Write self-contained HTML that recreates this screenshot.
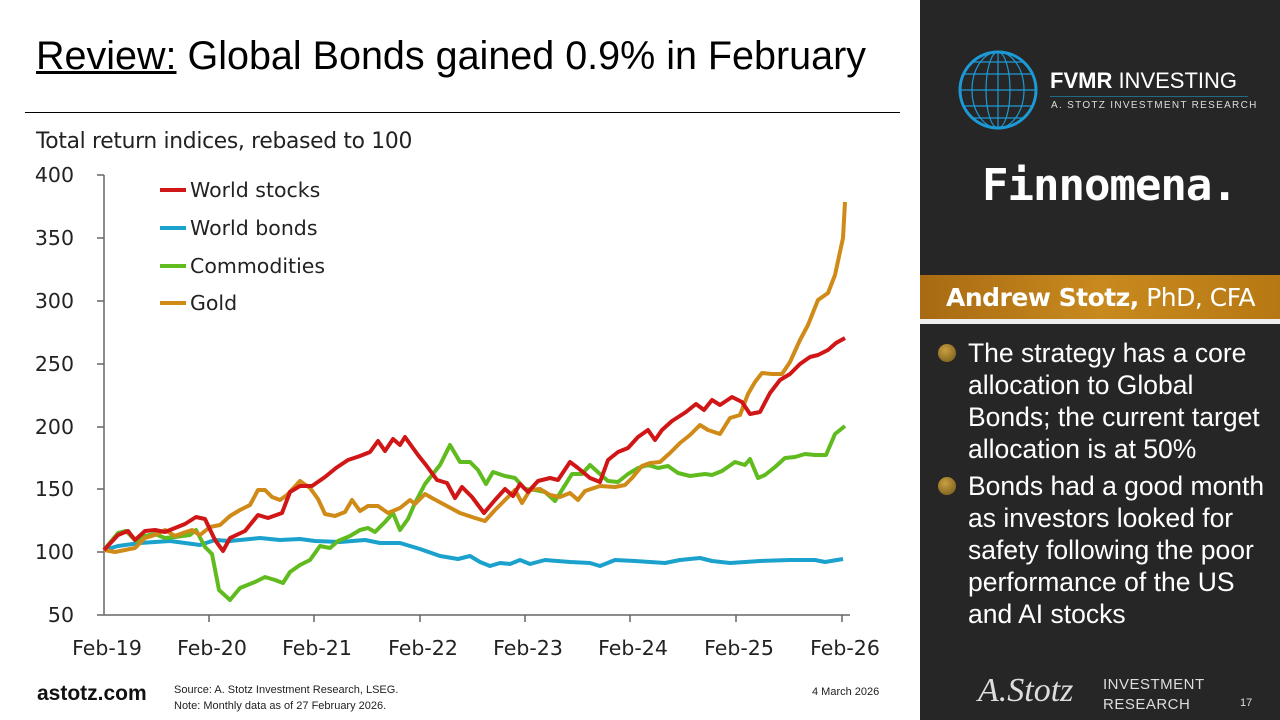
<!DOCTYPE html>
<html><head><meta charset="utf-8"><style>
body{margin:0;width:1280px;height:720px;overflow:hidden;background:#fff;font-family:"Liberation Sans",sans-serif;position:relative}
.abs{position:absolute}
#right{left:920px;top:0;width:360px;height:720px;background:#262626}
.bul{position:absolute;left:48px;font-size:26.5px;line-height:32px;color:#fff;width:306px}
.dot{position:absolute;left:-30px;top:7px;width:18px;height:18px;border-radius:50%;background:radial-gradient(circle at 40% 35%,#c9a040,#6e5418)}
</style></head><body>
<div class="abs" style="left:36px;top:34px;font-size:39.5px;color:#000"><span style="text-decoration:underline">Review:</span> Global Bonds gained 0.9% in February</div>
<div class="abs" style="left:25px;top:112px;width:875px;height:1px;background:#000"></div>
<div class="abs" style="left:36px;top:129px;font-size:21.8px;color:#222;font-family:'DejaVu Sans',sans-serif;letter-spacing:-0.3px">Total return indices, rebased to 100</div>
<svg class="abs" style="left:0;top:0" width="920" height="720" font-family="DejaVu Sans, sans-serif" font-size="20.5" fill="#222">
<g stroke="#666" stroke-width="1.5">
<line x1="104" y1="175" x2="104" y2="615"/><line x1="104" y1="615" x2="850" y2="615"/>
<line x1="97" y1="175" x2="104" y2="175"/><line x1="97" y1="238" x2="104" y2="238"/><line x1="97" y1="301" x2="104" y2="301"/><line x1="97" y1="364" x2="104" y2="364"/><line x1="97" y1="427" x2="104" y2="427"/><line x1="97" y1="489" x2="104" y2="489"/><line x1="97" y1="552" x2="104" y2="552"/><line x1="97" y1="615" x2="104" y2="615"/>
<line x1="209" y1="615" x2="209" y2="622"/><line x1="314" y1="615" x2="314" y2="622"/><line x1="420" y1="615" x2="420" y2="622"/><line x1="525" y1="615" x2="525" y2="622"/><line x1="630" y1="615" x2="630" y2="622"/><line x1="736" y1="615" x2="736" y2="622"/><line x1="842" y1="615" x2="842" y2="622"/>
</g>
<g text-anchor="end"><text x="74" y="182">400</text><text x="74" y="245">350</text><text x="74" y="308">300</text><text x="74" y="371">250</text><text x="74" y="434">200</text><text x="74" y="496">150</text><text x="74" y="559">100</text><text x="74" y="622">50</text></g>
<g text-anchor="middle"><text x="107" y="655">Feb-19</text><text x="212" y="655">Feb-20</text><text x="317" y="655">Feb-21</text><text x="423" y="655">Feb-22</text><text x="528" y="655">Feb-23</text><text x="633" y="655">Feb-24</text><text x="739" y="655">Feb-25</text><text x="845" y="655">Feb-26</text></g>
<g stroke-width="4" fill="none" stroke-linejoin="round">
<polyline stroke="#1aa1cc" points="104,550 118,546 140,543 170,541 200,545 215,540 230,541 260,538 280,540 300,539 315,541 340,542 365,540 380,543 400,543 420,549 440,556 458,559 470,556 480,562 490,566 500,563 510,564 520,560 530,564 545,560 570,562 590,563 600,566 615,560 635,561 650,562 665,563 680,560 700,558 712,561 730,563 760,561 790,560 815,560 825,562 843,559"/>
<polyline stroke="#60bb1e" points="104,550 118,533 126,531 136,541 145,536 155,534 165,538 175,537 190,535 196,530 205,547 212,554 219,590 230,600 240,588 255,582 265,577 275,580 283,583 290,572 300,565 310,560 320,546 330,548 338,541 350,536 360,530 368,528 375,532 385,522 393,513 400,530 408,519 415,503 425,484 440,465 450,445 460,462 470,462 478,470 486,484 493,472 505,476 515,478 525,489 535,490 545,492 555,501 562,490 572,474 582,474 590,465 600,474 608,481 618,482 628,474 638,468 648,465 658,468 668,466 678,473 690,476 705,474 712,475 722,471 735,462 745,465 750,459 758,478 765,475 775,467 785,458 795,457 805,454 815,455 826,455 835,434 845,426"/>
<polyline stroke="#d08a17" points="104,550 115,552 125,550 135,548 145,538 155,535 165,530 175,536 183,533 192,530 200,535 210,527 220,525 230,516 240,510 250,505 258,490 265,490 272,497 280,500 287,495 300,481 310,488 318,499 325,514 335,516 345,512 352,500 360,511 368,506 378,506 388,513 400,508 410,500 415,504 425,494 432,498 445,505 460,513 475,518 485,521 495,510 505,500 515,490 522,503 530,490 540,489 550,495 560,497 570,493 578,500 585,491 600,486 615,487 625,485 632,478 642,466 650,463 660,462 670,453 680,443 690,435 700,425 708,430 720,434 730,418 740,415 748,394 755,382 762,373 772,374 782,374 790,362 800,340 808,325 818,300 828,293 835,275 843,238 845,202"/>
<polyline stroke="#d01616" points="104,550 118,535 128,531 135,540 145,531 155,530 165,532 175,528 185,524 196,517 205,519 215,540 223,551 230,538 245,531 258,515 268,518 282,513 290,492 300,486 312,486 325,477 336,468 348,460 360,456 370,452 378,441 385,451 393,439 400,445 405,437 418,455 426,465 437,480 447,483 455,498 462,487 472,497 484,513 495,500 505,489 513,496 520,484 528,492 538,481 550,478 558,480 570,462 578,468 590,478 600,482 608,460 618,452 628,448 638,437 648,430 655,440 662,430 672,421 686,412 696,404 704,410 712,400 720,405 732,397 742,402 750,414 760,412 770,393 780,380 790,374 800,364 810,357 818,355 828,350 836,343 845,338"/>
<line x1="160" y1="190" x2="186" y2="190" stroke="#d01616"/>
<line x1="160" y1="228" x2="186" y2="228" stroke="#1aa1cc"/>
<line x1="160" y1="266" x2="186" y2="266" stroke="#60bb1e"/>
<line x1="160" y1="303" x2="186" y2="303" stroke="#d08a17"/>
</g>
<text x="190" y="197">World stocks</text><text x="190" y="235">World bonds</text><text x="190" y="273">Commodities</text><text x="190" y="310">Gold</text>
</svg>
<div class="abs" style="left:37px;top:682px;font-size:21px;font-weight:bold;color:#111">astotz.com</div>
<div class="abs" style="left:174px;top:682px;font-size:11px;color:#222;line-height:16px">Source: A. Stotz Investment Research, LSEG.<br>Note: Monthly data as of 27 February 2026.</div>
<div class="abs" style="left:812px;top:686px;font-size:11px;color:#222">4 March 2026</div>
<div id="right" class="abs">
 <svg class="abs" style="left:38px;top:50px" width="84" height="84"><circle cx="40" cy="40" r="38" fill="none" stroke="#1d9ad6" stroke-width="3"/><g stroke="#1d9ad6" stroke-width="1.2" fill="none"><ellipse cx="40" cy="40" rx="12" ry="38"/><ellipse cx="40" cy="40" rx="26" ry="38"/><line x1="40" y1="2" x2="40" y2="78"/><line x1="2" y1="40" x2="78" y2="40"/><line x1="6" y1="24" x2="74" y2="24"/><line x1="6" y1="56" x2="74" y2="56"/><line x1="14" y1="12" x2="66" y2="12"/><line x1="14" y1="68" x2="66" y2="68"/></g></svg>
 <div class="abs" style="left:130px;top:68px;font-size:22px;color:#fff"><b>FVMR</b> INVESTING</div>
 <div class="abs" style="left:130px;top:96px;width:198px;height:1px;background:#1d6a8a"></div>
 <div class="abs" style="left:131px;top:100px;font-size:10px;letter-spacing:1.3px;color:#ddd">A. STOTZ INVESTMENT RESEARCH</div>
 <div class="abs" style="left:62px;top:160px;font-size:44px;color:#fff;font-family:'DejaVu Sans Mono',monospace;letter-spacing:-1px;font-weight:bold">Finnomena.</div>
 <div class="abs" style="left:0;top:275px;width:360px;height:44px;background:linear-gradient(90deg,#a86a12,#c88a1e,#b77813)"></div>
 <div class="abs" style="left:26px;top:283px;font-size:25px;color:#fff;font-family:'DejaVu Sans',sans-serif;letter-spacing:-0.5px"><b>Andrew Stotz,</b> PhD, CFA</div>
 <div class="abs" style="left:0;top:319px;width:360px;height:5px;background:#eee"></div>
 <div class="bul" style="top:337px"><span class="dot"></span>The strategy has a core allocation to Global Bonds; the current target allocation is at 50%</div>
 <div class="bul" style="top:470px"><span class="dot"></span>Bonds had a good month as investors looked for safety following the poor performance of the US and AI stocks</div>
 <div class="abs" style="left:58px;top:672px;font-size:34px;color:#ddd;font-family:'Liberation Serif',serif;font-style:italic">A.Stotz</div>
 <div class="abs" style="left:183px;top:675px;font-size:15px;color:#ddd;line-height:20px;letter-spacing:0.5px">INVESTMENT<br>RESEARCH</div>
 <div class="abs" style="left:320px;top:697px;font-size:11px;color:#ddd">17</div>
</div>
</body></html>
